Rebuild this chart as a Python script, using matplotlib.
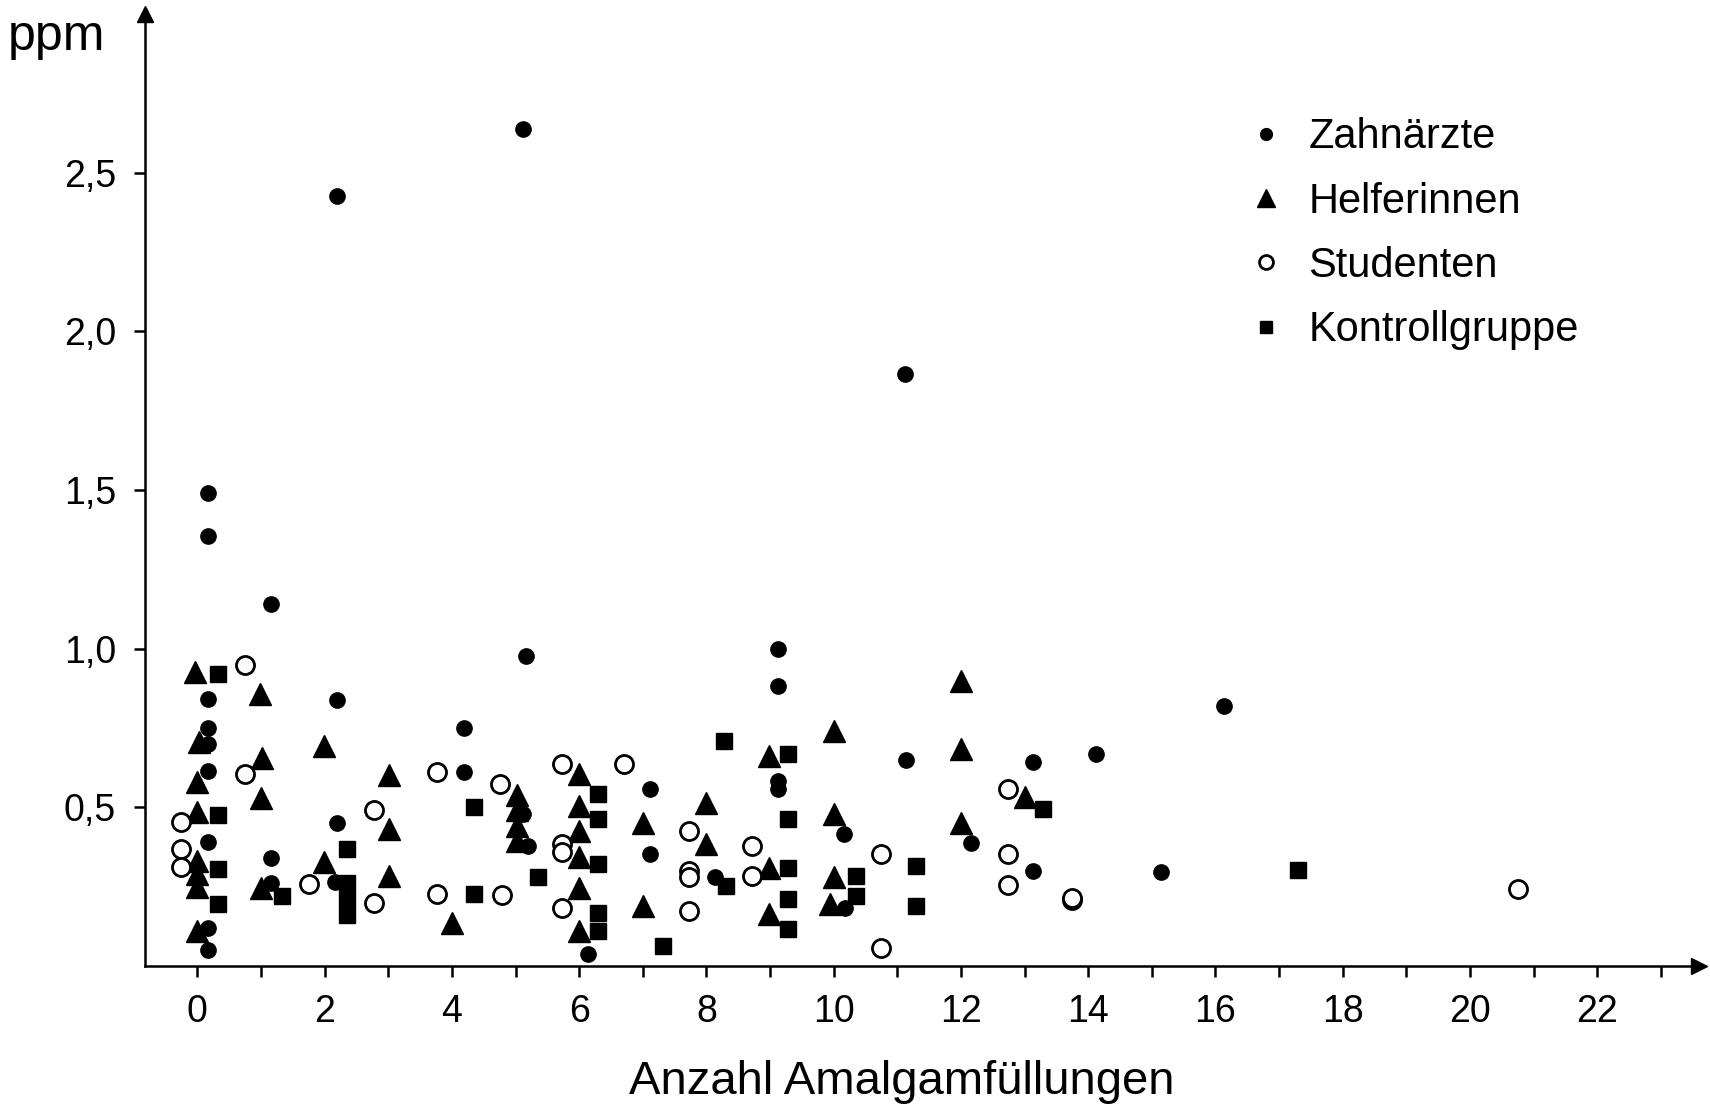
import matplotlib
matplotlib.use("Agg")
import matplotlib.pyplot as plt
from matplotlib.lines import Line2D

plt.rcParams['font.family'] = ['Liberation Sans', 'DejaVu Sans']

# Zahnaerzte (filled circles)
zahn_x = [0.16, 0.16, 0.16, 0.16, 0.16, 0.16, 0.16, 0.16, 0.16, 1.15, 1.15, 1.15,
          2.19, 2.19, 2.19, 2.16, 4.19, 4.19, 5.11, 5.16, 5.11, 5.19, 6.14, 7.12,
          7.12, 8.13, 9.13, 9.13, 9.13, 9.13, 10.16, 10.18, 11.12, 11.13, 12.16,
          13.13, 13.13, 14.13, 15.15, 16.14]
zahn_y = [1.49, 1.355, 0.84, 0.75, 0.70, 0.615, 0.39, 0.12, 0.05, 1.14, 0.34, 0.26,
          2.426, 0.839, 0.449, 0.263, 0.751, 0.61, 2.636, 0.978, 0.478, 0.379, 0.037, 0.557,
          0.352, 0.279, 0.999, 0.883, 0.584, 0.557, 0.415, 0.184, 1.866, 0.649, 0.386,
          0.644, 0.30, 0.668, 0.296, 0.818]

# Helferinnen (filled triangles)
helf_x = [-0.03, 0.03, 0.0, 0.0, 0.0, 0.0, 0.0, 0.0, 0.99, 1.01, 1.0, 1.0,
          1.99, 1.99, 3.01, 3.01, 3.01, 4.0, 5.03, 5.03, 5.03, 5.03,
          6.0, 6.0, 6.0, 6.0, 6.0, 6.0, 7.0, 7.0, 8.0, 8.0, 8.98, 8.98, 8.98,
          10.0, 10.0, 10.0, 9.95, 12.0, 12.0, 12.0, 13.0]
helf_y = [0.926, 0.705, 0.58, 0.486, 0.33, 0.29, 0.25, 0.109, 0.857, 0.655, 0.528, 0.247,
          0.692, 0.327, 0.602, 0.433, 0.284, 0.136, 0.54, 0.49, 0.44, 0.395,
          0.605, 0.505, 0.426, 0.342, 0.247, 0.11, 0.452, 0.189, 0.515, 0.384, 0.662, 0.31, 0.163,
          0.741, 0.478, 0.279, 0.195, 0.899, 0.683, 0.452, 0.531]

# Studenten (open circles)
stud_x = [-0.25, -0.25, -0.25, 0.75, 0.75, 1.76, 2.77, 2.77, 3.76, 3.76, 4.75, 4.78,
          5.73, 5.73, 5.73, 5.73, 6.71, 7.72, 7.72, 7.72, 7.72, 8.72, 8.72,
          10.75, 10.75, 12.74, 12.74, 12.74, 13.74, 13.74, 20.75]
stud_y = [0.454, 0.369, 0.313, 0.947, 0.606, 0.258, 0.493, 0.199, 0.61, 0.228, 0.573, 0.224,
          0.636, 0.384, 0.358, 0.184, 0.636, 0.426, 0.30, 0.279, 0.174, 0.379, 0.284,
          0.352, 0.058, 0.557, 0.354, 0.256, 0.207, 0.215, 0.244]

# Kontrollgruppe (filled squares)
kont_x = [0.32, 0.32, 0.32, 0.32, 1.33, 2.35, 2.35, 2.35, 2.35, 4.35, 4.35, 5.35,
          6.3, 6.3, 6.3, 6.3, 6.3, 7.32, 8.28, 8.31, 9.29, 9.29, 9.29, 9.29, 9.29,
          10.35, 10.35, 11.3, 11.3, 13.29, 17.3]
kont_y = [0.92, 0.475, 0.305, 0.194, 0.22, 0.369, 0.26, 0.21, 0.16, 0.50, 0.226, 0.279,
          0.542, 0.463, 0.321, 0.168, 0.11, 0.063, 0.71, 0.252, 0.668, 0.463, 0.31, 0.21, 0.116,
          0.285, 0.22, 0.315, 0.189, 0.494, 0.302]

x_ticks = list(range(0, 24))
x_ticklabels = [str(i) if i % 2 == 0 else '' for i in x_ticks]
y_ticks = [0.5, 1.0, 1.5, 2.0, 2.5]
y_ticklabels = ['0,5', '1,0', '1,5', '2,0', '2,5']
labels = ['Zahnärzte', 'Helferinnen', 'Studenten', 'Kontrollgruppe']

fig = plt.figure(figsize=(17.1, 11.08), dpi=100)
ax = fig.add_axes([0.0849, 0.1282, 0.9936 - 0.0849, 0.9874 - 0.1282])

ax.plot(kont_x, kont_y, 's', color='k', ms=11.5, ls='none')
ax.plot(helf_x, helf_y, '^', color='k', ms=15.5, ls='none')
ax.plot(zahn_x, zahn_y, 'o', color='k', ms=11, ls='none')
ax.plot(stud_x, stud_y, 'o', mfc='white', mec='k', mew=2.0, ms=13, ls='none')

ax.set_xlim(-0.82, 23.6)
ax.set_ylim(0, 3.0)

for s in ['top', 'right']:
    ax.spines[s].set_visible(False)
for s in ['left', 'bottom']:
    ax.spines[s].set_linewidth(1.8)

# arrow heads
ax.plot(1, 0, '>k', ms=12, transform=ax.transAxes, clip_on=False)
ax.plot(0, 1, '^k', ms=12, transform=ax.transAxes, clip_on=False)

ax.set_xticks(x_ticks)
ax.set_xticklabels(x_ticklabels)
ax.set_yticks(y_ticks)
ax.set_yticklabels(y_ticklabels)
ax.tick_params(axis='x', direction='out', length=8, width=1.8, pad=12, labelsize=27)
ax.tick_params(axis='y', direction='out', length=8, width=1.8, pad=13, labelsize=27)

fig.text(0.033, 0.967, 'ppm', ha='center', va='center', fontsize=36)
fig.text(0.5275, 0.0235, 'Anzahl Amalgamfüllungen', ha='center', va='center', fontsize=34)

handles = [
    Line2D([], [], marker='o', color='k', ls='none', ms=8.5),
    Line2D([], [], marker='^', color='k', ls='none', ms=13),
    Line2D([], [], marker='o', mfc='white', mec='k', mew=2.0, ls='none', ms=10),
    Line2D([], [], marker='s', color='k', ls='none', ms=9),
]
ax.legend(handles, labels, loc='upper left', bbox_to_anchor=(0.706, 0.928),
          bbox_transform=fig.transFigure, frameon=False, fontsize=30,
          handlelength=1.0, handletextpad=0.53, labelspacing=0.585, borderpad=0.4)

fig.savefig('out.png', dpi=100)
